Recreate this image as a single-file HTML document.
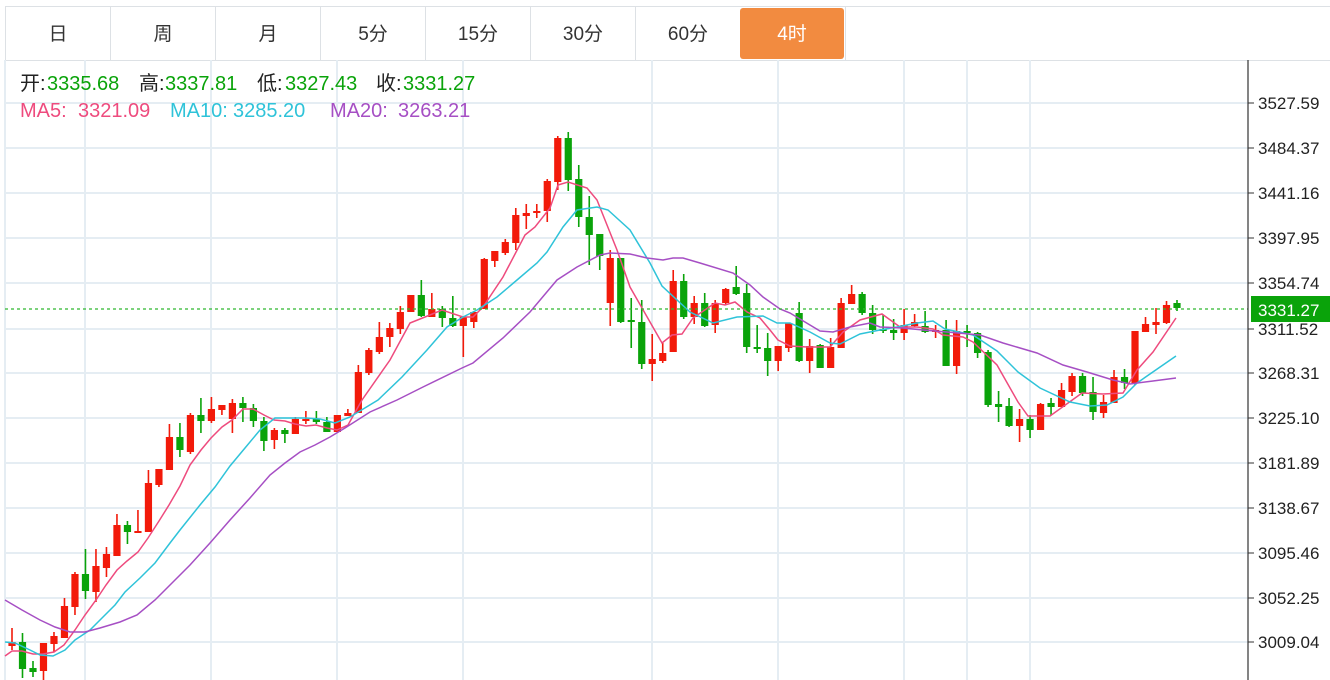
<!DOCTYPE html>
<html><head><meta charset="utf-8">
<style>
html,body{margin:0;padding:0;background:#fff;}
body{width:1330px;height:680px;overflow:hidden;position:relative;font-family:"Liberation Sans","Noto Sans CJK SC",sans-serif;}
.tabs{position:absolute;left:5px;top:6px;width:1325px;height:53px;border-top:1px solid #dde1e5;border-bottom:1px solid #dde1e5;}
.tab{position:absolute;top:0;height:53px;width:104px;border-left:1px solid #dde1e5;text-align:center;line-height:55px;font-size:19px;color:#333;}
.tab.on{background:#f28b40;color:#fff;border-radius:3px;border-left:none;top:1px;height:51px;line-height:53px;}
.t{position:absolute;font-size:20px;white-space:nowrap;line-height:20px;}
.k{color:#222}.g{color:#0aa30a}
</style></head><body>
<div class="tabs">
<div class="tab" style="left:0;border-left:1px solid #dde1e5">日</div>
<div class="tab" style="left:105px">周</div>
<div class="tab" style="left:210px">月</div>
<div class="tab" style="left:315px">5分</div>
<div class="tab" style="left:420px">15分</div>
<div class="tab" style="left:525px">30分</div>
<div class="tab" style="left:630px">60分</div>
<div class="tab on" style="left:735px">4时</div>
<div class="tab" style="left:840px;width:0"></div>
</div>
<svg id="s" width="1330" height="680" style="position:absolute;left:0;top:0" xmlns="http://www.w3.org/2000/svg"></svg>
<div class="t k" style="left:20px;top:74px">开:</div><div class="t g" style="left:47px;top:74px">3335.68</div>
<div class="t k" style="left:139px;top:74px">高:</div><div class="t g" style="left:165px;top:74px">3337.81</div>
<div class="t k" style="left:257px;top:74px">低:</div><div class="t g" style="left:285px;top:74px">3327.43</div>
<div class="t k" style="left:376px;top:74px">收:</div><div class="t g" style="left:403px;top:74px">3331.27</div>
<div class="t" style="left:20px;top:101px;color:#ee4b7e">MA5:</div><div class="t" style="left:78px;top:101px;color:#ee4b7e">3321.09</div>
<div class="t" style="left:170px;top:101px;color:#2fc3d9">MA10:</div><div class="t" style="left:233px;top:101px;color:#2fc3d9">3285.20</div>
<div class="t" style="left:330px;top:101px;color:#a64fc4">MA20:</div><div class="t" style="left:398px;top:101px;color:#a64fc4">3263.21</div>
<script>
var s=document.getElementById('s'),h='';
var ticks=[["3527.59",103],["3484.37",148],["3441.16",193],["3397.95",238],["3354.74",283],["3311.52",329],["3268.31",373],["3225.10",418],["3181.89",463],["3138.67",508],["3095.46",553],["3052.25",598],["3009.04",642]];
ticks.forEach(function(t){h+='<line x1="5" x2="1248" y1="'+t[1]+'" y2="'+t[1]+'" stroke="#e5edf3" stroke-width="2"/>';});
[5,85,211,337,463,652,778,904,967,1030].forEach(function(x){h+='<line x1="'+x+'" x2="'+x+'" y1="60" y2="680" stroke="#e5edf3" stroke-width="2"/>';});
var C=[[642,646,628,650,'r'],[642,669,633,678,'g'],[668,672,661,677,'g'],[643,671,643,680,'r'],[636,644,632,652,'r'],[606,638,598,638,'r'],[574,607,572,615,'r'],[574,591,549,599,'g'],[566,592,549,602,'r'],[554,568,547,577,'r'],[525,556,514,556,'r'],[525,532,521,544,'g'],[531,533,510,533,'r'],[483,532,470,532,'r'],[469,485,469,487,'r'],[437,470,424,470,'r'],[437,450,423,457,'g'],[415,452,413,454,'r'],[415,421,398,433,'g'],[409,421,397,423,'r'],[405,410,405,415,'r'],[403,419,399,433,'r'],[403,408,397,422,'g'],[408,421,404,427,'g'],[421,441,417,451,'g'],[430,440,428,449,'r'],[430,434,428,443,'g'],[419,434,417,434,'r'],[419,421,411,424,'r'],[419,422,411,424,'g'],[422,432,417,432,'g'],[415,432,415,432,'r'],[413,416,409,416,'r'],[372,413,365,413,'r'],
[350,373,348,375,'r'],[337,352,322,354,'r'],[328,337,323,347,'r'],[312,329,306,334,'r'],[295,312,295,312,'r'],[295,316,280,317,'g'],[309,317,293,317,'r'],[309,318,306,327,'g'],[318,326,296,327,'g'],[317,326,317,357,'r'],[312,322,311,328,'r'],[259,309,258,309,'r'],[251,261,251,267,'r'],[242,253,239,255,'r'],[215,243,208,250,'r'],[213,216,204,229,'r'],[211,213,204,218,'r'],[181,211,179,222,'r'],[138,182,136,190,'r'],[138,180,132,191,'g'],[179,217,165,227,'g'],[217,235,196,265,'g'],[234,256,234,270,'g'],[258,303,250,326,'r'],[258,322,258,323,'g'],[320,322,298,348,'g'],[322,364,300,369,'g'],[359,364,334,381,'r'],[353,361,343,363,'r'],[281,352,270,352,'r'],[281,317,274,319,'g'],[303,317,296,324,'r'],[303,326,293,327,'g'],[303,325,300,333,'r'],[289,303,288,305,'r'],[287,294,266,295,'g'],[293,347,284,353,'g'],[347,349,325,353,'g'],[348,361,333,376,'g'],[346,361,346,371,'r'],
[323,348,323,352,'r'],[313,361,302,362,'g'],[346,361,339,373,'r'],[345,368,344,368,'g'],[347,368,338,368,'r'],[303,348,298,348,'r'],[294,304,285,304,'r'],[294,313,292,315,'g'],[313,330,305,334,'g'],[329,331,315,333,'g'],[330,333,319,340,'g'],[325,333,309,340,'r'],[322,326,314,327,'r'],[326,332,311,333,'g'],[330,331,325,338,'r'],[330,366,320,366,'g'],[331,366,320,374,'r'],[331,333,325,347,'g'],[333,353,332,358,'g'],[352,405,350,407,'g'],[404,407,391,422,'g'],[406,426,398,427,'g'],[419,426,409,442,'r'],[419,430,415,438,'g'],[404,430,403,430,'r'],[403,407,398,415,'g'],[390,407,383,407,'r'],[376,392,373,396,'r'],[376,393,373,396,'g'],[392,412,377,420,'g'],[402,413,395,418,'r'],[377,403,370,403,'r'],[377,383,369,389,'g'],[331,383,331,385,'r'],[324,332,317,332,'r'],[322,325,308,334,'r'],[305,323,301,324,'r'],[303,308,300,311,'g']];
var step=(1177-12)/(C.length-1);
C.forEach(function(c,i){var x=12+i*step,col=c[4]=='r'?'#f21a0a':'#0aa30a';
h+='<line x1="'+x+'" x2="'+x+'" y1="'+c[2]+'" y2="'+c[3]+'" stroke="'+col+'" stroke-width="1.6"/>';
h+='<rect x="'+(x-3.6)+'" y="'+c[0]+'" width="7.2" height="'+Math.max(2,c[1]-c[0])+'" fill="'+col+'"/>';});
function pl(p,col){h+='<polyline fill="none" stroke="'+col+'" stroke-width="1.5" points="'+p+'"/>';}
pl("5,656 12,651 22,651 33,654 43,654 54,652 64,645 75,630 85,615 96,600 106,585 117,570 127,561 138,552 148,538 159,521 169,505 180,486 190,465 201,450 211,438 222,427 232,420 243,409 253,409 264,415 274,420 285,421 295,424 306,426 316,425 327,428 337,430 348,425 362,400 390,360 410,323 425,317 442,310 463,317 473,317 483,307 503,277 525,235 535,227 550,208 558,185 568,182 587,188 597,200 617,250 630,287 662,343 672,335 682,334 693,318 715,303 725,305 735,302 747,312 760,318 770,330 778,340 790,346 807,347 830,347 843,332 860,320 882,314 900,327 917,327 933,329 943,335 963,337 973,342 997,365 1018,402 1028,416 1050,416 1082,393 1103,394 1123,393 1137,370 1153,352 1176,318","#ee4b7e");
pl("5,642 15,643 30,650 40,655 53,656 65,650 75,640 90,630 100,620 115,605 125,592 140,578 155,563 170,543 180,530 200,505 215,487 230,466 245,448 260,430 275,418 290,418 305,418 320,419 335,423 350,417 378,400 402,377 427,350 447,327 463,317 477,310 497,297 517,280 537,263 547,252 563,227 577,210 597,207 608,210 630,230 650,263 662,286 690,312 713,323 737,317 763,316 777,323 790,323 810,332 830,343 840,344 860,334 880,330 897,327 917,323 933,321 945,329 973,335 997,351 1018,372 1040,388 1070,402 1090,406 1107,405 1123,397 1137,383 1176,356","#2fc3d9");
pl("5,600 22,610 40,620 55,627 70,632 85,632 100,628 120,622 137,615 155,600 170,585 190,565 210,543 230,520 250,498 270,475 285,463 300,452 315,445 330,437 345,428 370,412 397,400 423,387 462,368 473,363 503,338 530,312 557,280 577,267 600,255 610,253 630,254 647,258 663,260 673,258 683,258 700,263 733,273 750,285 763,297 780,309 790,313 820,331 833,332 850,327 870,323 880,327 903,328 923,330 947,332 980,335 1003,343 1037,353 1063,365 1087,372 1113,380 1130,384 1153,381 1176,378","#a64fc4");
h+='<line x1="5" x2="1248" y1="309" y2="309" stroke="#2eb82e" stroke-width="1.3" stroke-dasharray="3,3"/>';
h+='<line x1="1248" x2="1248" y1="60" y2="680" stroke="#333" stroke-width="1.2"/>';
ticks.forEach(function(t){h+='<line x1="1248" x2="1254" y1="'+t[1]+'" y2="'+t[1]+'" stroke="#333"/><text x="1258" y="'+(t[1]+6)+'" font-size="17" fill="#222" font-family="Liberation Sans,sans-serif">'+t[0]+'</text>';});
h+='<rect x="1251" y="296" width="79" height="26" fill="#0aa30a"/><text x="1258" y="316" font-size="17" fill="#fff" font-family="Liberation Sans,sans-serif">3331.27</text>';
s.innerHTML=h;
</script>
</body></html>
